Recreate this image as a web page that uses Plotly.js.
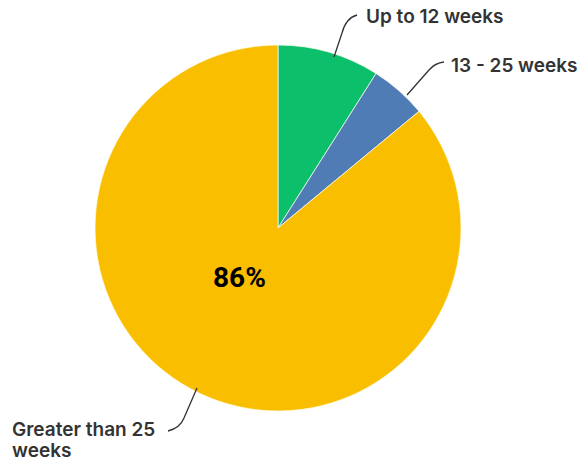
<!DOCTYPE html>
<html>
<head>
<meta charset="utf-8">
<script src="https://cdn.plot.ly/plotly-3.0.1.min.js"></script>
<style>html,body{margin:0;padding:0;background:#fff;}#chart{width:579px;height:462px;}</style>
</head>
<body>
<div id="chart"></div>
<script>
var categories = ['Up to 12 weeks', '13 - 25 weeks', 'Greater than 25 weeks'];
var values = [9, 5, 86];
var colors = ['#0CBF6B', '#507CB6', '#F9BE00'];
var labelLines = [['Up to 12 weeks'], ['13 - 25 weeks'], ['Greater than 25', 'weeks']];

var W = 579, H = 462;
function px(x) { return x / W; }
function py(y) { return 1 - y / H; }

var cx = 278, cy = 228, r = 183;

var total = values.reduce(function (a, b) { return a + b; }, 0);
var bigPct = Math.round(values[2] / total * 100) + '%';

var trace = {
  type: 'pie',
  labels: categories,
  values: values,
  sort: false,
  direction: 'clockwise',
  rotation: 0,
  marker: { colors: colors, line: { color: 'rgba(255,255,240,0.7)', width: 1 } },
  textinfo: 'none',
  hoverinfo: 'label+percent',
  showlegend: false,
  domain: { x: [px(cx - r), px(cx + r)], y: [py(cy + r), py(cy - r)] }
};

var labelFont = { family: 'Inter, "Open Sans", sans-serif', size: 19, color: '#333333', weight: 600 };

var annotations = [
  { x: px(364), y: py(16), text: labelLines[0][0], xanchor: 'left', yanchor: 'middle', font: labelFont },
  { x: px(449), y: py(65), text: labelLines[1][0], xanchor: 'left', yanchor: 'middle', font: labelFont },
  { x: px(10), y: py(429), text: labelLines[2][0], xanchor: 'left', yanchor: 'middle', font: labelFont },
  { x: px(10), y: py(450), text: labelLines[2][1], xanchor: 'left', yanchor: 'middle', font: labelFont },
  { x: px(240), y: py(277), text: bigPct, xanchor: 'center', yanchor: 'middle',
    font: { family: 'Roboto, Arial, sans-serif', size: 28, color: '#000000', weight: 700 } }
].map(function (a) {
  return Object.assign({ xref: 'paper', yref: 'paper', showarrow: false }, a);
});

function pathPx(cmds) {
  return cmds.map(function (c) {
    var s = c[0];
    for (var i = 1; i < c.length; i += 2) s += ' ' + px(c[i]) + ',' + py(c[i + 1]);
    return s;
  }).join(' ');
}

var lineStyle = { color: '#333333', width: 1.3 };
var shapes = [
  [['M', 334, 57], ['L', 342, 33], ['Q', 346, 18, 357, 15]],
  [['M', 407, 95], ['L', 429, 70], ['Q', 435, 63, 444, 62]],
  [['M', 197, 388], ['L', 184, 418], ['Q', 180, 428, 168, 431]]
].map(function (p) {
  return { type: 'path', xref: 'paper', yref: 'paper', path: pathPx(p), line: lineStyle };
});

var layout = {
  width: W, height: H,
  margin: { l: 0, r: 0, t: 0, b: 0 },
  paper_bgcolor: '#ffffff',
  plot_bgcolor: '#ffffff',
  annotations: annotations,
  shapes: shapes,
  showlegend: false
};

Plotly.newPlot('chart', [trace], layout, { displayModeBar: false, staticPlot: true });
</script>
</body>
</html>
